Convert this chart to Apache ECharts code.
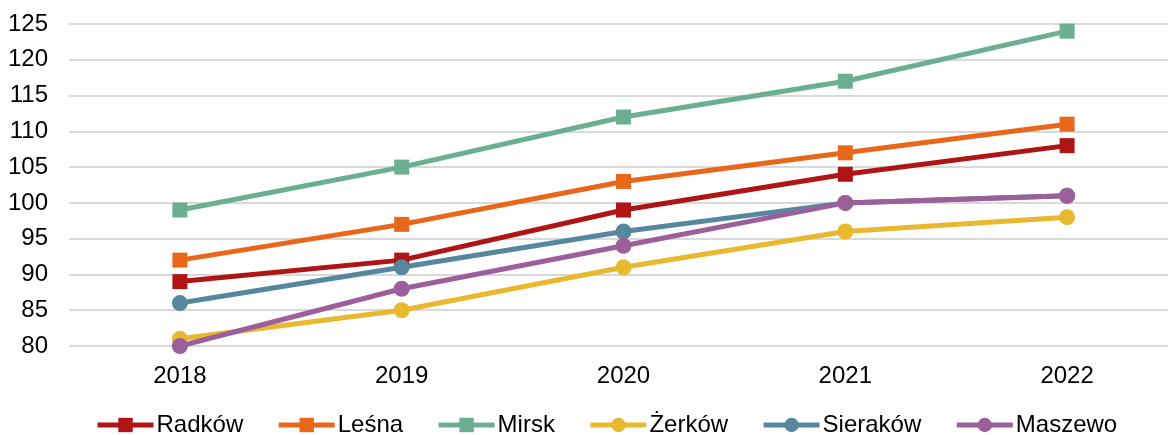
<!DOCTYPE html>
<html>
<head>
<meta charset="utf-8">
<script src="https://cdn.jsdelivr.net/npm/echarts@6/dist/echarts.min.js"></script>
<style>
  html, body { margin: 0; padding: 0; background: #fff; }
  #chart { width: 1168px; height: 435px; }
</style>
</head>
<body>
<div id="chart"></div>
<script>
const years = ['2018', '2019', '2020', '2021', '2022'];
const radkow = [89, 92, 99, 104, 108];
const lesna = [92, 97, 103, 107, 111];
const mirsk = [99, 105, 112, 117, 124];
const zerkow = [81, 85, 91, 96, 98];
const sierakow = [86, 91, 96, 100, 101];
const maszewo = [80, 88, 94, 100, 101];

const chart = echarts.init(document.getElementById('chart'));

function line(name, data, color, symbol) {
  return {
    name: name,
    type: 'line',
    data: data,
    symbol: symbol,
    symbolSize: symbol === 'rect' ? 15 : 16,
    lineStyle: { width: 5, color: color },
    itemStyle: { color: color },
    emphasis: { disabled: true }
  };
}

chart.setOption({
  animation: false,
  textStyle: { fontFamily: 'Liberation Sans, Arial, sans-serif' },
  grid: { left: 69, top: 24, width: 1109, height: 322, outerBoundsMode: 'none' },
  legend: {
    top: 408,
    left: 90,
    itemWidth: 56,
    itemHeight: 18,
    itemGap: 33,
    lineStyle: { width: 5 },
    textStyle: { fontSize: 24, color: '#000', padding: [0, 0, 0, -2] },
    data: ['Radków', 'Leśna', 'Mirsk', 'Żerków', 'Sieraków', 'Maszewo']
  },
  xAxis: {
    type: 'category',
    data: years,
    boundaryGap: true,
    axisLine: { show: false },
    axisTick: { show: false },
    axisLabel: { fontSize: 24, color: '#000', margin: 18 }
  },
  yAxis: {
    type: 'value',
    min: 80,
    max: 125,
    interval: 5,
    axisLine: { show: false },
    axisTick: { show: false },
    axisLabel: { fontSize: 24, color: '#000', margin: 21 },
    splitLine: { lineStyle: { color: '#d9d9d9', width: 2 } }
  },
  series: [
    line('Radków', radkow, '#b01515', 'rect'),
    line('Leśna', lesna, '#e8671a', 'rect'),
    line('Mirsk', mirsk, '#6baf92', 'rect'),
    line('Żerków', zerkow, '#e8b82e', 'circle'),
    line('Sieraków', sierakow, '#55879e', 'circle'),
    line('Maszewo', maszewo, '#9d5f9b', 'circle')
  ]
});
</script>
</body>
</html>
